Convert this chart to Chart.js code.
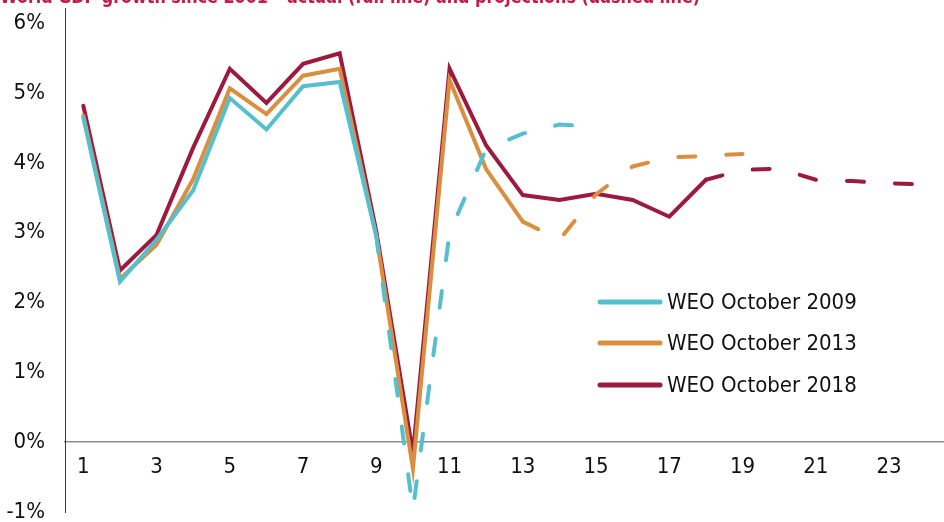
<!DOCTYPE html>
<html lang="en">
<head>
  <meta charset="UTF-8">
  <title>World GDP growth – WEO vintages</title>
  <script src="https://cdn.jsdelivr.net/npm/chart.js"></script>
  <style>
    * { margin: 0; padding: 0; box-sizing: border-box; }
    body { background: #fff; }
    .wrap { position: relative; width: 944px; height: 522px; }
  </style>
</head>
<body>
  <div class="wrap">
    <canvas id="gdpChart"></canvas>
  </div>

  <script>
    // categories (1..24) and y tick values
    const categories = ['1','2','3','4','5','6','7','8','9','10','11','12',
                        '13','14','15','16','17','18','19','20','21','22','23','24'];
    const yTicks = [-1, 0, 1, 2, 3, 4, 5, 6];

    // series values, % growth (null = no value)
    const weo2009 = [4.65, 2.30, 2.90, 3.61, 4.93, 4.48, 5.10, 5.16, 2.95, -0.97, 3.00, 4.20,
                     4.42, 4.55, 4.52, null, null, null, null, null, null, null, null, null];
    const weo2013 = [4.68, 2.34, 2.83, 3.77, 5.07, 4.70, 5.25, 5.35, 2.95, -0.38, 5.19, 3.91,
                     3.16, 2.90, 3.55, 3.95, 4.08, 4.10, 4.13, null, null, null, null, null];
    const weo2018 = [4.82, 2.46, 2.97, 4.22, 5.35, 4.86, 5.42, 5.57, 3.02, -0.16, 5.35, 4.25,
                     3.54, 3.47, 3.56, 3.47, 3.23, 3.76, 3.90, 3.92, 3.76, 3.74, 3.71, 3.69];

    // index of last actual value: segments after it are projections (dashed)
    const lastActual2009 = 8;
    const lastActual2013 = 12;
    const lastActual2018 = 17;

    const titleText = 'World GDP growth since 2001 \u2013 actual (full line) and projections (dashed line)';
    const FONT = "'DejaVu Sans Condensed', 'DejaVu Sans', sans-serif";
    const DASH = [17, 31];

    function series(label, data, color, lastActual) {
      return {
        label: label,
        data: data,
        borderColor: color,
        backgroundColor: color,
        borderWidth: 4,
        pointRadius: 0,
        tension: 0,
        borderCapStyle: 'round',
        borderJoinStyle: 'miter',
        spanGaps: false,
        segment: {
          borderDash: ctx => ctx.p0DataIndex >= lastActual ? DASH : undefined
        }
      };
    }

    // Title (cut at top) and in-plot legend
    const decorations = {
      id: 'decorations',
      afterDraw(chart) {
        const c = chart.ctx;
        c.save();
        c.fillStyle = '#bf1e48';
        c.font = "bold 19px " + FONT;
        c.textAlign = 'left';
        c.textBaseline = 'alphabetic';
        c.fillText(titleText, 0, 3, 700);

        const rows = [302, 343, 385];
        chart.data.datasets.forEach((ds, i) => {
          const y = rows[i];
          c.strokeStyle = ds.borderColor;
          c.lineWidth = 5;
          c.lineCap = 'round';
          c.beginPath();
          c.moveTo(600, y);
          c.lineTo(660, y);
          c.stroke();
          c.fillStyle = '#111';
          c.font = "22px " + FONT;
          c.textBaseline = 'middle';
          c.fillText(ds.label, 667, y + 1);
        });
        c.restore();
      }
    };

    const ctx = document.getElementById('gdpChart').getContext('2d');
    new Chart(ctx, {
      type: 'line',
      data: {
        labels: categories,
        datasets: [
          series('WEO October 2009', weo2009, '#55bfcd', lastActual2009),
          series('WEO October 2013', weo2013, '#d98f3f', lastActual2013),
          series('WEO October 2018', weo2018, '#9c1a3e', lastActual2018)
        ]
      },
      options: {
        responsive: true,
        maintainAspectRatio: false,
        animation: false,
        devicePixelRatio: 1,
        layout: { padding: { top: 8, bottom: 10, right: 0, left: 0 } },
        plugins: {
          legend: { display: false },
          tooltip: { enabled: false },
          title: { display: false }
        },
        scales: {
          x: {
            type: 'category',
            offset: true,
            position: { y: 0 },
            grid: { display: false, drawTicks: false },
            border: { display: true, color: '#8c8c8c', width: 1.5 },
            afterFit: scale => { scale.height = 0; scale.paddingLeft = 0; scale.paddingRight = 0; },
            ticks: {
              autoSkip: false,
              maxRotation: 0,
              padding: 12,
              color: '#111',
              font: { family: FONT, size: 22 },
              callback: (v, i) => (i % 2 === 0 ? categories[i] : '')
            }
          },
          y: {
            min: -1,
            max: 6.22,
            grid: { display: false, drawTicks: false },
            border: { display: true, color: '#3a3a3a', width: 1 },
            afterBuildTicks: scale => { scale.ticks = yTicks.map(v => ({ value: v })); },
            afterFit: scale => { scale.width = 65; scale.paddingTop = 0; scale.paddingBottom = 0; },
            ticks: {
              padding: 20,
              color: '#111',
              font: { family: FONT, size: 22 },
              callback: v => v + '%'
            }
          }
        }
      },
      plugins: [decorations]
    });
  </script>
</body>
</html>
